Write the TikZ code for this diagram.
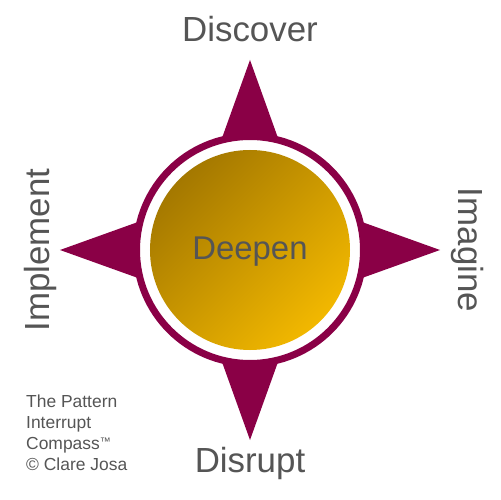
\documentclass[tikz,border=0pt]{standalone}
\usepackage{fontspec}
\setmainfont{Liberation Sans}
\definecolor{maroon}{HTML}{8A0046}
\definecolor{golddark}{HTML}{A47800}
\definecolor{goldlight}{HTML}{F2B800}
\definecolor{labelgray}{HTML}{555555}

\begin{document}
\begin{tikzpicture}[x=1bp, y=1bp,
	label/.style={text=labelgray, inner sep=0pt, font=\fontsize{35}{40}\selectfont},
	spike/.style={fill=maroon, draw=none}]
	\useasboundingbox (-250,-250) rectangle (250,250);
	% compass points
	\foreach \ang in {0, 90, 180, 270}
		\fill[spike, rotate=\ang] (0,190) -- (28,112) -- (-28,112) -- cycle;
	% ring and centre
	\draw[maroon, line width=7bp, fill=white] (0,0) circle (113.5);
	\shade[top color=golddark, bottom color=goldlight, shading angle=45] (0,0) circle (100);

	\node[label, anchor=base] (discover) at (0,208) {Discover};
	\node[label, anchor=base] (disrupt) at (0,-222) {Disrupt};
	\node[label, anchor=base, rotate=90] (implement) at (-200,0) {Implement};
	\node[label, anchor=base, rotate=-90] (imagine) at (208,0) {Imagine};
	\node[label, anchor=base, font=\fontsize{33}{38}\selectfont] (deepen) at (0,-10) {Deepen};

	\node[text=labelgray, inner sep=0pt, anchor=north west, align=left,
		font=\fontsize{17.5}{21}\selectfont] (credit) at (-224,-145)
		{The Pattern\\Interrupt\\Compass\raisebox{4bp}{\fontsize{11}{11}\selectfont ™}\\© Clare Josa};
\end{tikzpicture}
\end{document}
